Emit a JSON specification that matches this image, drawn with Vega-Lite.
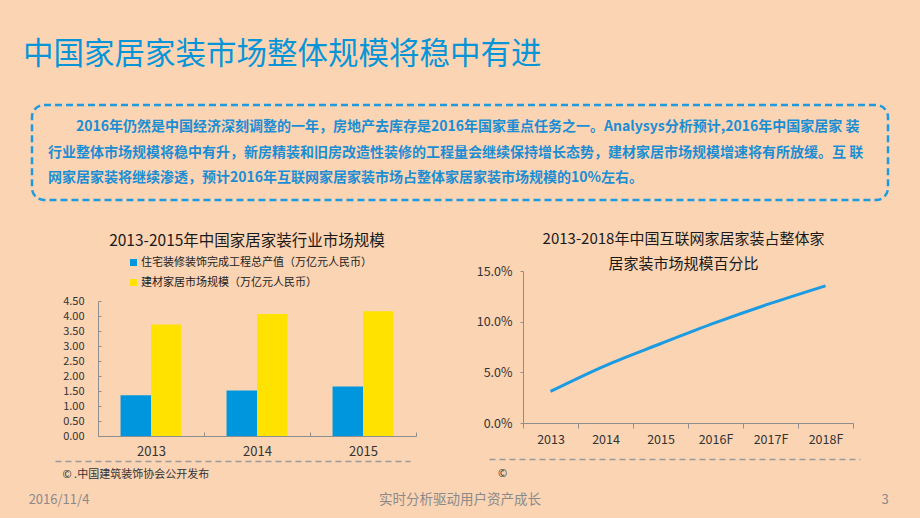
{
  "$schema": "https://vega.github.io/schema/vega-lite/v6.json",
  "background": "#FBD4B4",
  "padding": 0,
  "spacing": 0,
  "bounds": "flush",
  "center": true,
  "config": {
    "font": "Noto Sans CJK SC",
    "view": {"stroke": null},
    "axis": {"grid": false, "domainColor": "#8E8E8E", "tickColor": "#8E8E8E", "labelColor": "#333333", "labelFont": "Noto Sans CJK SC", "titleFont": "Noto Sans CJK SC"}
  },
  "datasets": {
    "bars": [
      {"year": "2013", "series": "住宅装修装饰完成工程总产值（万亿元人民币）", "value": 1.36},
      {"year": "2013", "series": "建材家居市场规模（万亿元人民币）", "value": 3.72},
      {"year": "2014", "series": "住宅装修装饰完成工程总产值（万亿元人民币）", "value": 1.52},
      {"year": "2014", "series": "建材家居市场规模（万亿元人民币）", "value": 4.07},
      {"year": "2015", "series": "住宅装修装饰完成工程总产值（万亿元人民币）", "value": 1.65},
      {"year": "2015", "series": "建材家居市场规模（万亿元人民币）", "value": 4.16}
    ],
    "share": [
      {"year": "2013", "pct": 0.0312},
      {"year": "2014", "pct": 0.0567},
      {"year": "2015", "pct": 0.0782},
      {"year": "2016F", "pct": 0.0990},
      {"year": "2017F", "pct": 0.1180},
      {"year": "2018F", "pct": 0.1354}
    ],
    "footerSide": [
      {"slot": "date", "label": "2016/11/4"},
      {"slot": "page", "label": "3"}
    ],
    "footerMid": [
      {"label": "实时分析驱动用户资产成长"}
    ],
    "blank": [{"t": ""}],
    "anchor": [{"v": 0}]
  },
  "vconcat": [
    {
      "width": 920,
      "height": 105,
      "data": {"name": "blank"},
      "mark": {"type": "text"},
      "encoding": {"text": {"field": "t"}},
      "title": {
        "text": "中国家居家装市场整体规模将稳中有进",
        "orient": "bottom",
        "anchor": "start",
        "baseline": "top",
        "offset": -65,
        "dx": 23,
        "fontSize": 30.5,
        "fontWeight": "normal",
        "color": "#0795D8"
      }
    },
    {
      "width": 856,
      "height": 95,
      "view": {"stroke": "#1E9BE0", "strokeWidth": 2.5, "strokeDash": [7, 4], "cornerRadius": 12},
      "data": {"name": "blank"},
      "mark": {"type": "text"},
      "encoding": {"text": {"field": "t"}},
      "title": {
        "text": [
          "\u200B\u3000\u30002016年仍然是中国经济深刻调整的一年，房地产去库存是2016年国家重点任务之一。Analysys分析预计,2016年中国家居家 装",
          "行业整体市场规模将稳中有升，新房精装和旧房改造性装修的工程量会继续保持增长态势，建材家居市场规模增速将有所放缓。互 联",
          "网家居家装将继续渗透，预计2016年互联网家居家装市场占整体家居家装市场规模的10%左右。"
        ],
        "orient": "bottom",
        "anchor": "start",
        "baseline": "top",
        "offset": -80,
        "dx": 16,
        "fontSize": 14,
        "lineHeight": 25.5,
        "fontWeight": "bold",
        "color": "#1B8ED3"
      }
    },
    {
      "width": 920,
      "height": 71,
      "data": {"name": "bars"},
      "mark": {"type": "bar"},
      "encoding": {
        "x": {
          "field": "year", "type": "nominal",
          "scale": {"range": [98, 416], "paddingInner": 0, "paddingOuter": 0},
          "axis": {
            "orient": "bottom", "offset": 165, "labelAngle": 0, "tickBand": "extent", "tickSize": -4,
            "labelPadding": 13, "labelFontSize": 13,
            "title": "2013-2015年中国家居家装行业市场规模",
            "titleX": 246.5, "titleY": -196, "titleAlign": "center", "titleBaseline": "middle",
            "titleFontSize": 15.5, "titleFontWeight": "normal", "titleColor": "#1A1A1A", "titleLimit": 1000
          }
        },
        "xOffset": {
          "field": "series", "type": "nominal",
          "sort": ["住宅装修装饰完成工程总产值（万亿元人民币）", "建材家居市场规模（万亿元人民币）"],
          "scale": {"paddingInner": 0, "paddingOuter": 0.74}
        },
        "y": {
          "field": "value", "type": "quantitative",
          "scale": {"domain": [0, 4.5], "range": [236, 101], "nice": false},
          "axis": {
            "orient": "left", "offset": -98, "values": [0, 0.5, 1, 1.5, 2, 2.5, 3, 3.5, 4, 4.5],
            "format": ".2f", "tickSize": -3, "labelPadding": 17, "labelFontSize": 11, "title": null
          }
        },
        "color": {
          "field": "series", "type": "nominal",
          "sort": ["住宅装修装饰完成工程总产值（万亿元人民币）", "建材家居市场规模（万亿元人民币）"],
          "scale": {"range": ["#0096DD", "#FFE200"]},
          "legend": {
            "orient": "none", "legendX": 128, "legendY": 257, "title": null, "direction": "vertical",
            "symbolType": "square", "symbolSize": 49, "symbolStrokeWidth": 0, "labelFontSize": 11,
            "labelColor": "#222222", "labelLimit": 400, "rowPadding": 8, "labelOffset": 2
          }
        }
      }
    },
    {
      "width": 920,
      "height": 152,
      "data": {"name": "share"},
      "mark": {"type": "line", "interpolate": "monotone", "strokeWidth": 3, "color": "#1A9BE2"},
      "encoding": {
        "x": {
          "field": "year", "type": "nominal",
          "scale": {"type": "band", "range": [523, 853], "paddingInner": 0, "paddingOuter": 0},
          "axis": {
            "orient": "bottom", "offset": 0, "labelAngle": 0, "tickBand": "extent", "tickSize": 5,
            "labelPadding": 5, "labelFontSize": 12.5,
            "title": ["2013-2018年中国互联网家居家装占整体家", "居家装市场规模百分比"],
            "titleX": 683, "titleY": -192, "titleAlign": "center", "titleBaseline": "top", "titleLineHeight": 25.5,
            "titleFontSize": 15, "titleFontWeight": "normal", "titleColor": "#1A1A1A", "titleLimit": 1000
          }
        },
        "y": {
          "field": "pct", "type": "quantitative",
          "scale": {"domain": [0, 0.15], "range": [152, 0], "nice": false},
          "axis": {
            "orient": "left", "offset": -523, "values": [0, 0.05, 0.1, 0.15], "format": ".1%",
            "tickSize": 3, "labelPadding": 8, "labelFontSize": 12.5, "title": null
          }
        }
      }
    },
    {
      "width": 920,
      "height": 36,
      "data": {"name": "anchor"},
      "mark": {"type": "rule", "opacity": 0},
      "encoding": {
        "x": {
          "field": "v", "type": "quantitative",
          "scale": {"domain": [0, 1], "range": [55, 410]},
          "axis": {
            "orient": "bottom", "offset": 2, "domainDash": [6, 4], "domainColor": "#9A9A9A", "domainWidth": 1.5,
            "ticks": false, "labels": false,
            "title": "© .中国建筑装饰协会公开发布", "titleX": 62, "titleY": 13, "titleAlign": "left",
            "titleBaseline": "middle", "titleFontSize": 11, "titleFontWeight": "normal", "titleColor": "#333333", "titleLimit": 1000
          }
        }
      }
    },
    {
      "width": 920,
      "height": 23,
      "data": {"name": "anchor"},
      "mark": {"type": "rule", "opacity": 0},
      "encoding": {
        "x": {
          "field": "v", "type": "quantitative",
          "scale": {"domain": [0, 1], "range": [489, 860]},
          "axis": {
            "orient": "top", "offset": 0, "domainDash": [6, 4], "domainColor": "#9A9A9A", "domainWidth": 1.5,
            "ticks": false, "labels": false,
            "title": "©", "titleX": 502, "titleY": 14, "titleAlign": "center",
            "titleBaseline": "middle", "titleFontSize": 11, "titleFontWeight": "normal", "titleColor": "#333333"
          }
        }
      }
    },
    {
      "width": 920,
      "height": 36,
      "layer": [
        {
          "data": {"name": "footerMid"},
          "mark": {"type": "text", "fontSize": 13.5, "color": "#8A8A8A", "baseline": "middle"},
          "encoding": {"text": {"field": "label"}}
        },
        {
          "data": {"name": "footerSide"},
          "mark": {"type": "text", "fontSize": 13, "color": "#8A8A8A", "baseline": "middle"},
          "encoding": {
            "x": {"field": "slot", "type": "nominal", "sort": null, "scale": {"type": "point", "range": [59, 885], "padding": 0}, "axis": null},
            "text": {"field": "label"}
          }
        }
      ]
    }
  ]
}
